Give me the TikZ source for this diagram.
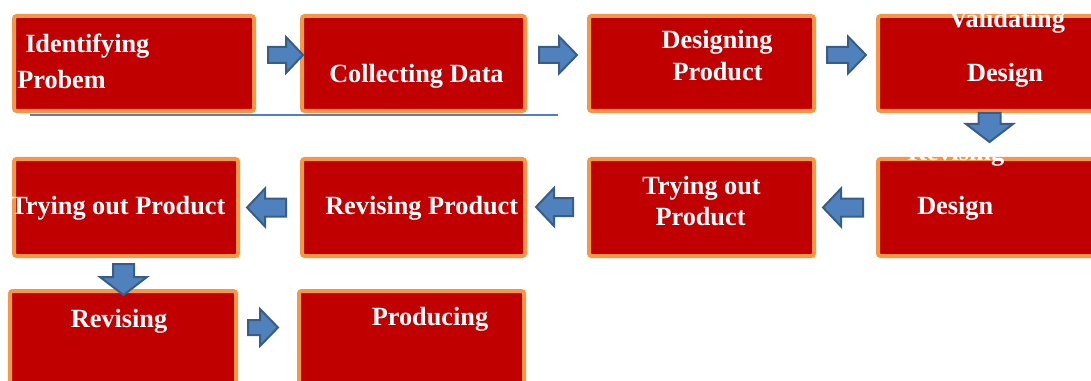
\documentclass[tikz,border=0pt]{standalone}
\usepackage{fontspec}
\setmainfont{Liberation Serif}
\definecolor{boxred}{HTML}{C00000}
\definecolor{boxorange}{HTML}{F79646}
\definecolor{arrfill}{HTML}{4F81BD}
\definecolor{arrline}{HTML}{385D8A}
\begin{document}
\begin{tikzpicture}[x=0.75pt,y=-0.75pt,
  stagebox/.style={draw=boxorange, fill=boxred, line width=3pt, rounded corners=2pt, inner sep=0pt},
  lbl/.style={text=white, font=\bfseries\fontsize{19.7}{23}\selectfont, inner sep=0pt},
  blockarrow/.style={fill=arrfill, draw=arrline, line width=1.5pt, line join=miter},
  pics/barrow/.style args={#1/#2/#3/#4}{code={
    \draw[blockarrow] (-#1/2,-#4) -- (#1/2-#2,-#4) -- (#1/2-#2,-#3) -- (#1/2,0)
      -- (#1/2-#2,#3) -- (#1/2-#2,#4) -- (-#1/2,#4) -- cycle;}}]
\useasboundingbox (0,0) rectangle (1091,381);
% row 1
\node[stagebox, minimum width=240*0.75pt, minimum height=95*0.75pt] (b1) at (134,63.5) {};
\node[stagebox, minimum width=223*0.75pt, minimum height=95*0.75pt] (b2) at (413.5,63.5) {};
\node[stagebox, minimum width=225*0.75pt, minimum height=95*0.75pt] (b3) at (701.5,63.5) {};
\node[stagebox, minimum width=220*0.75pt, minimum height=95*0.75pt] (b4) at (988,63.5) {};
% row 2
\node[stagebox, minimum width=224*0.75pt, minimum height=97*0.75pt] (b5) at (126,207.5) {};
\node[stagebox, minimum width=223*0.75pt, minimum height=97*0.75pt] (b6) at (413.5,207.5) {};
\node[stagebox, minimum width=225*0.75pt, minimum height=97*0.75pt] (b7) at (701.5,207.5) {};
\node[stagebox, minimum width=220*0.75pt, minimum height=97*0.75pt] (b8) at (988,207.5) {};
% row 3
\node[stagebox, minimum width=226*0.75pt, minimum height=97*0.75pt] (b9) at (123,339.5) {};
\node[stagebox, minimum width=225*0.75pt, minimum height=97*0.75pt] (b10) at (411.5,339.5) {};
% blue rule
\coordinate (ruleA) at (30,115);
\coordinate (ruleB) at (558,115);
\draw[arrfill, line width=1.2pt] (ruleA) -- (ruleB);
% labels
\node[lbl, anchor=base west] (t1a) at (25,53) {Identifying};
\node[lbl, anchor=base west] (t1b) at (17,89) {Probem};
\node[lbl, anchor=base west] (t2) at (329,83) {Collecting Data};
\node[lbl, anchor=base] (t3a) at (717,49) {Designing};
\node[lbl, anchor=base] (t3b) at (717.5,81) {Product};
\node[lbl, anchor=base] (t4a) at (1007,28) {Validating};
\node[lbl, anchor=base] (t4b) at (1005,82) {Design};
\node[lbl, anchor=base] (t8a) at (956,161) {Revising};
\node[lbl, anchor=base west] (t8b) at (917,214) {Design};
\node[lbl, anchor=base] (t7a) at (701.5,195) {Trying out};
\node[lbl, anchor=base] (t7b) at (700.5,225) {Product};
\node[lbl, anchor=base west] (t6) at (325,214) {Revising Product};
\node[lbl, anchor=base west] (t5) at (10,214) {Trying out Product};
\node[lbl, anchor=base] (t9) at (119,327) {Revising};
\node[lbl, anchor=base] (t10) at (430,325) {Producing};
% block arrows
\pic at (285.5,55) {barrow={35/17/18/8}};
\pic at (558,55) {barrow={38/18/18.5/8}};
\pic at (846.5,55) {barrow={39/18/18.5/8}};
\pic[rotate=-90] at (989.5,127.5) {barrow={29/18/23.5/11}};
\pic[rotate=180] at (554.5,207) {barrow={37/18/19/9}};
\pic[rotate=180] at (843,207.5) {barrow={40/18/19/9}};
\pic[rotate=180] at (266.5,207.5) {barrow={39/18/19/9}};
\pic[rotate=-90] at (123.5,279.5) {barrow={31/18/23.5/10.5}};
\pic at (263,327.5) {barrow={30/18/18.5/7.5}};
\end{tikzpicture}
\end{document}
